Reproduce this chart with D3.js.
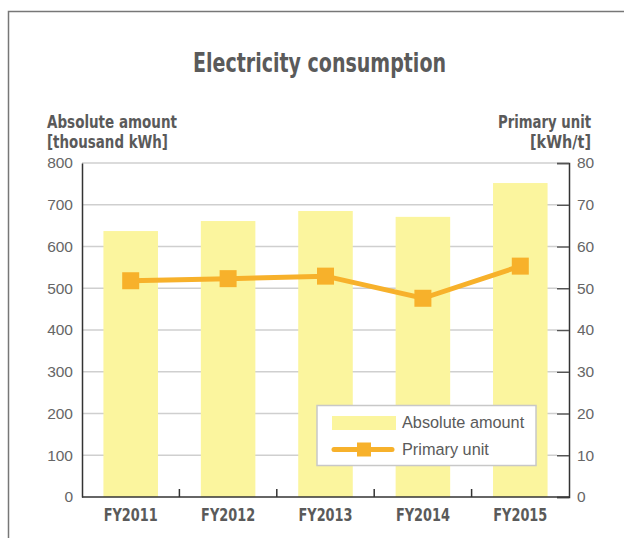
<!DOCTYPE html>
<html><head><meta charset="utf-8">
<script src="https://cdn.jsdelivr.net/npm/d3@7"></script>
<style>
body{margin:0;background:#fff;}
svg{display:block;}
</style></head>
<body>
<svg id="c" width="624" height="538"></svg>
<script>
const categories = ["FY2011","FY2012","FY2013","FY2014","FY2015"];
const absoluteAmount = [637, 661, 685, 671, 752];
const primaryUnit = [51.8, 52.3, 52.9, 47.6, 55.3];
const leftTicks = [0,100,200,300,400,500,600,700,800];
const rightTicks = [0,10,20,30,40,50,60,70,80];

const svg = d3.select("#c");
const m = {l:82, r:569, t:163, b:497};
const condensed = "'Liberation Sans Narrow','DejaVu Sans Condensed','Arial Narrow',sans-serif";
const regular = "'Liberation Sans',Arial,Helvetica,sans-serif";
const barColor = "#FBF59E", lineColor = "#F7B12B", textColor = "#5a5a5a";

// frame
svg.append("path").attr("d","M8.5,538 V11.5 H624").attr("fill","none").attr("stroke","#777").attr("stroke-width",1.5);

const x = d3.scaleBand().domain(categories).range([m.l, m.r]).paddingInner(0.44).paddingOuter(0.22);
const yL = d3.scaleLinear().domain([0,800]).range([m.b, m.t]);
const yR = d3.scaleLinear().domain([0,80]).range([m.b, m.t]);

// gridlines
svg.append("g").selectAll("line").data(leftTicks.slice(1)).join("line")
  .attr("x1", m.l).attr("x2", m.r-12).attr("y1", d=>yL(d)).attr("y2", d=>yL(d))
  .attr("stroke","#cfcfcf").attr("stroke-width",1.5);

// bars
svg.append("g").selectAll("rect").data(categories).join("rect")
  .attr("x", d=>x(d)).attr("width", x.bandwidth())
  .attr("y", (d,i)=>yL(absoluteAmount[i])).attr("height",(d,i)=>m.b - yL(absoluteAmount[i]))
  .attr("fill", barColor);

// left axis
const gl = svg.append("g").attr("transform",`translate(${m.l},0)`)
  .call(d3.axisLeft(yL).tickValues(leftTicks).tickSize(0).tickPadding(9));
gl.select(".domain").attr("stroke","#333").attr("stroke-width",1.5);
gl.selectAll("text").attr("font-family",regular).attr("font-size",15.5).attr("fill","#666");

// right axis
const gr = svg.append("g").attr("transform",`translate(${m.r},0)`)
  .call(d3.axisRight(yR).tickValues(rightTicks).tickSize(-12).tickPadding(8));
gr.select(".domain").attr("stroke","#333").attr("stroke-width",1.5);
gr.selectAll(".tick line").attr("stroke","#555").attr("stroke-width",1.5);
gr.selectAll("text").attr("font-family",regular).attr("font-size",15.5).attr("fill","#666").attr("x",8);

// bottom axis
const gb = svg.append("g").attr("transform",`translate(0,${m.b})`)
  .call(d3.axisBottom(x).tickSize(0).tickPadding(10));
gb.select(".domain").attr("stroke","#333").attr("stroke-width",1.5).attr("d",`M${m.l},0H${m.r}`);
gb.selectAll("text").attr("font-family",condensed).attr("font-weight","bold").attr("font-size",18.5)
  .attr("fill",textColor).attr("textLength",54).attr("lengthAdjust","spacingAndGlyphs")
  .attr("dy",null).attr("y",24);
// separator ticks between categories
const step = x.step();
const seps = categories.slice(1).map((d)=> x(d) - x.paddingInner()*step/2);
svg.append("g").selectAll("line").data(seps).join("line")
  .attr("x1",d=>d).attr("x2",d=>d).attr("y1",m.b-8).attr("y2",m.b)
  .attr("stroke","#333").attr("stroke-width",1.5);

// line
const line = d3.line().x((d,i)=>x(categories[i])+x.bandwidth()/2).y(d=>yR(d));
svg.append("path").datum(primaryUnit).attr("d",line).attr("fill","none")
  .attr("stroke",lineColor).attr("stroke-width",5);
const ms = 17;
svg.append("g").selectAll("rect").data(primaryUnit).join("rect")
  .attr("x",(d,i)=>x(categories[i])+x.bandwidth()/2-ms/2).attr("y",d=>yR(d)-ms/2)
  .attr("width",ms).attr("height",ms).attr("fill",lineColor);

// title
svg.append("text").attr("x",193).attr("y",72)
  .attr("font-family",condensed).attr("font-weight","bold").attr("font-size",27).attr("fill",textColor)
  .attr("textLength",253).attr("lengthAdjust","spacingAndGlyphs")
  .text("Electricity consumption");

// axis titles
const at = [["Absolute amount",47,128,130],["[thousand kWh]",47,148,121],["Primary unit",498,128,93],["[kWh/t]",530,148,61]];
svg.append("g").selectAll("text").data(at).join("text")
  .attr("x",d=>d[1]).attr("y",d=>d[2])
  .attr("font-family",condensed).attr("font-weight","bold").attr("font-size",17).attr("fill",textColor)
  .attr("textLength",d=>d[3]).attr("lengthAdjust","spacingAndGlyphs")
  .text(d=>d[0]);

// legend
const lg = svg.append("g");
lg.append("rect").attr("x",317).attr("y",405.5).attr("width",219).attr("height",60)
  .attr("fill","#fff").attr("stroke","#c8c8c8").attr("stroke-width",1.5);
lg.append("rect").attr("x",332).attr("y",416).attr("width",64).attr("height",14).attr("fill",barColor);
lg.append("line").attr("x1",334).attr("x2",392).attr("y1",449.5).attr("y2",449.5)
  .attr("stroke",lineColor).attr("stroke-width",5).attr("stroke-linecap","round");
lg.append("rect").attr("x",357).attr("y",442.5).attr("width",14).attr("height",14).attr("fill",lineColor);
lg.append("text").attr("x",402).attr("y",428).attr("font-family",regular).attr("font-size",16.3).attr("fill",textColor).text("Absolute amount");
lg.append("text").attr("x",402).attr("y",455).attr("font-family",regular).attr("font-size",16.3).attr("fill",textColor).text("Primary unit");
</script>
</body></html>
